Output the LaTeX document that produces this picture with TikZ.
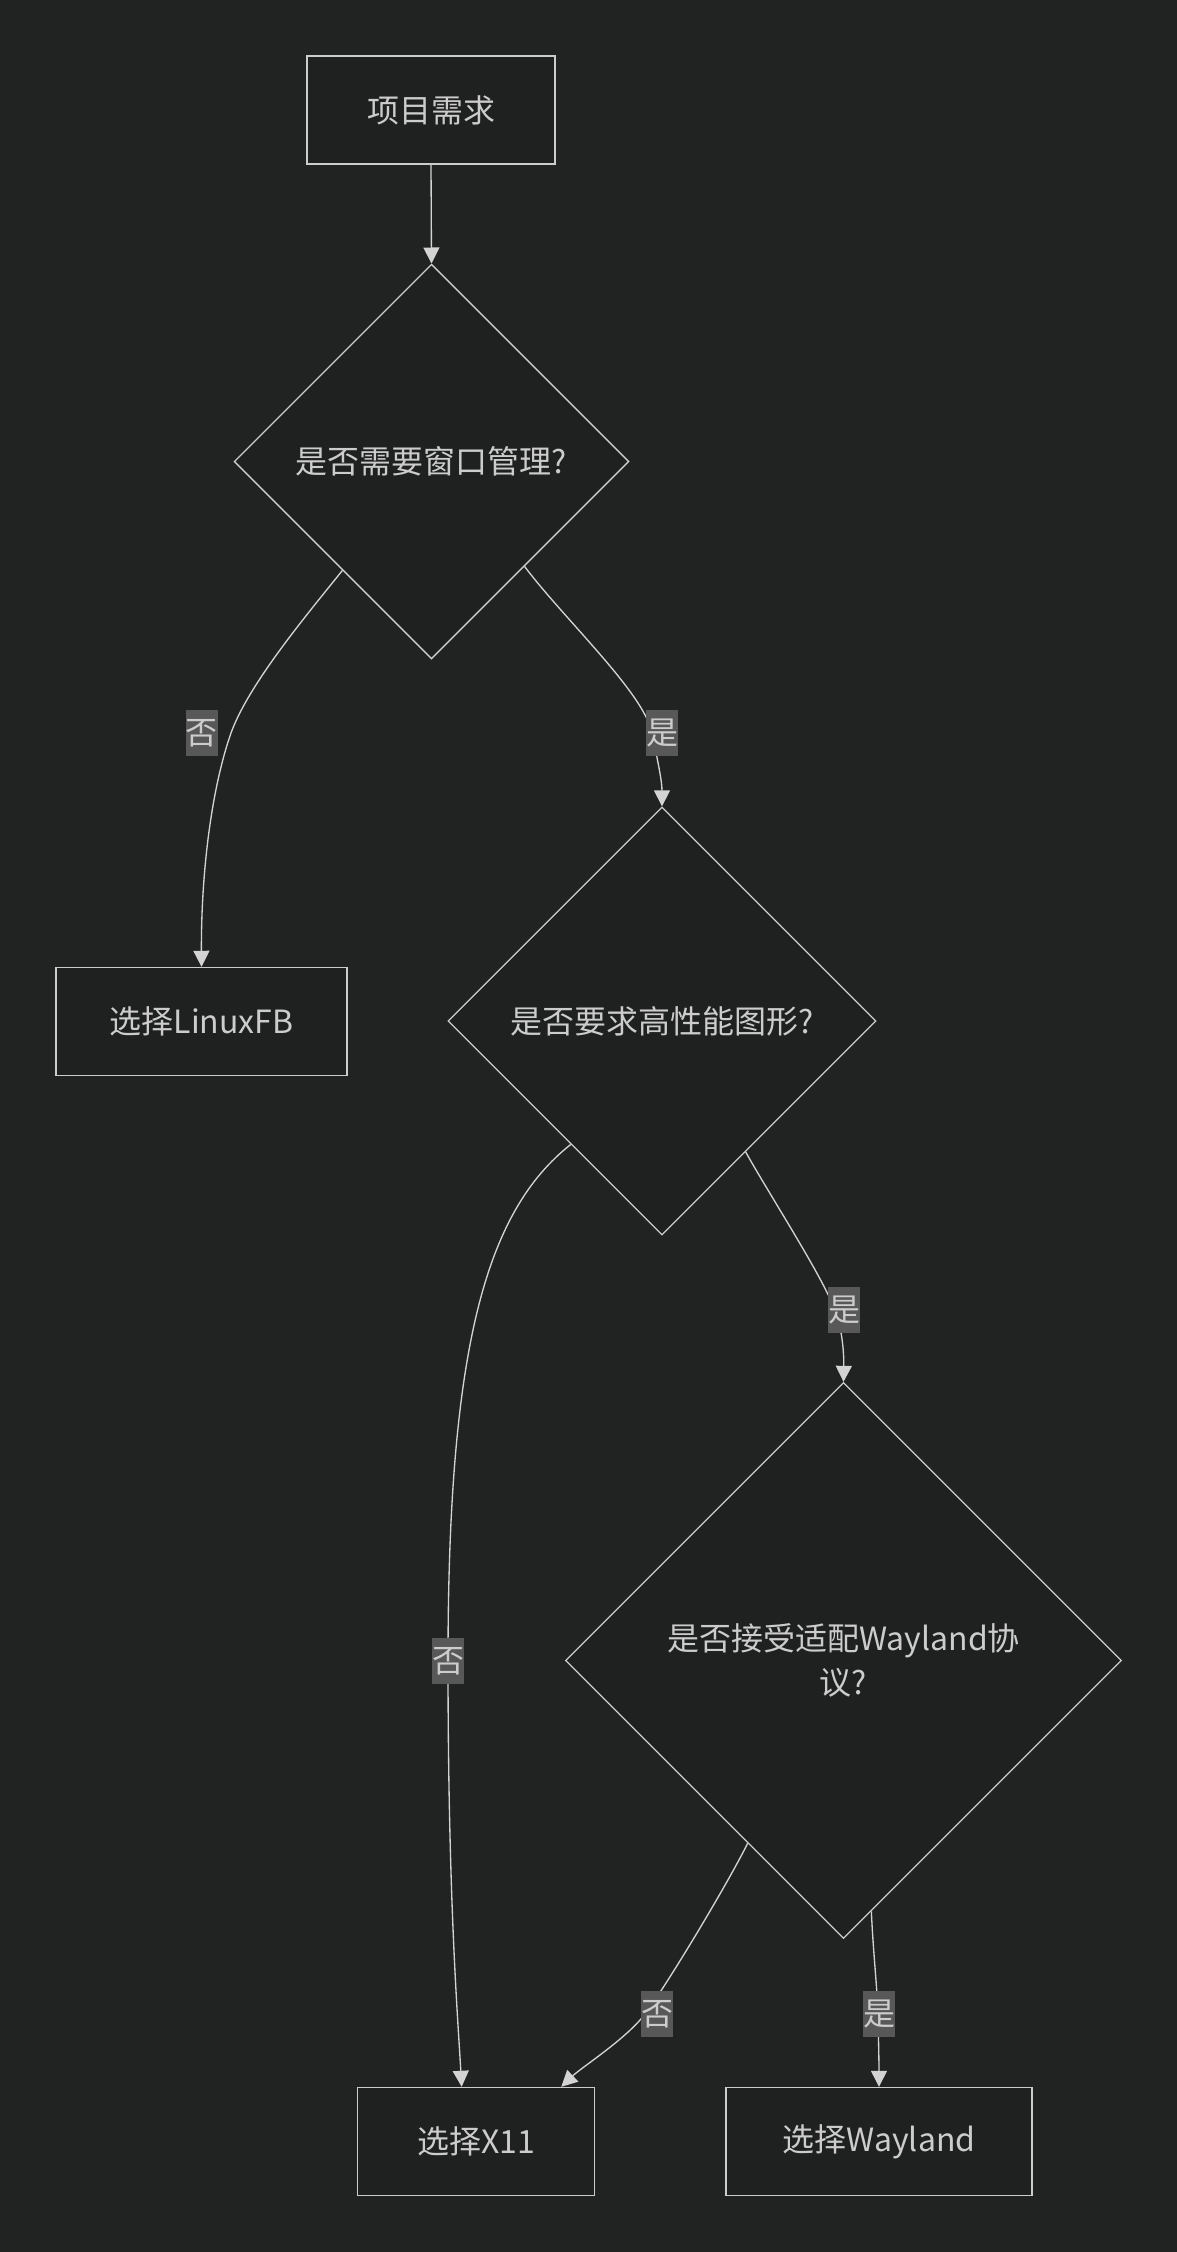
\documentclass[tikz,border=0pt]{standalone}
\usepackage{fontspec}
\setmainfont{Noto Sans CJK SC}
\usepackage{tikz}
\usetikzlibrary{shapes.geometric,arrows.meta,calc}
\definecolor{canvas}{RGB}{33,34,34}
\definecolor{nodefill}{RGB}{31,32,32}
\definecolor{boxline}{RGB}{204,204,204}
\definecolor{wire}{RGB}{211,211,211}
\definecolor{ink}{RGB}{204,204,204}
\definecolor{lblbg}{RGB}{88,88,88}

\begin{document}
\begin{tikzpicture}[x=0.75pt,y=-0.75pt,
    txt/.style={text=ink,font=\fontsize{24}{33}\selectfont},
    proc/.style={txt,rectangle,draw=boxline,fill=nodefill,line width=1.1pt,inner sep=0pt,minimum height=81pt},
    cond/.style={txt,diamond,shape aspect=1,draw=boxline,fill=nodefill,line width=1pt,inner sep=0pt,align=center},
    lbl/.style={txt,fill=lblbg,inner sep=0pt,minimum width=22.5pt,minimum height=35pt},
    flow/.style={draw=wire,line width=1pt,-{Triangle[length=12pt,width=12pt]}}
  ]
  % background, also fixes the page size
  \fill[canvas] (0,0) rectangle (1177,2252);
  % boxes
  \node[proc,minimum width=186pt] (need) at (431,110) {项目需求};
  \node[proc,minimum width=218pt] (fb) at (201.5,1021.5) {选择LinuxFB};
  \node[proc,minimum width=178pt] (x11) at (476,2141.5) {选择X11};
  \node[proc,minimum width=229.5pt] (way) at (879,2141.5) {选择Wayland};
  % questions
  \node[cond,minimum size=296pt] (q1) at (431.5,461.5) {是否需要窗口管理?};
  \node[cond,minimum size=321pt] (q2) at (662,1021) {是否要求高性能图形?};
  \node[cond,minimum size=417pt] (q3) at (843.5,1660.5) {是否接受适配Wayland协\\议?};
  % start
  \draw[flow] (need.south) -- (q1.north);
  % window management?
  \draw[flow] ($(q1.west)!0.55!(q1.south)$) .. controls (310,611) and (249,683) .. (231,733)
      node[lbl,xshift=-22pt] (l1) {否} .. controls (210,793) and (201,880) .. (fb.north);
  \draw[flow] ($(q1.south)!0.47!(q1.east)$) .. controls (565,620) and (644,693) .. (652,733)
      node[lbl,xshift=7.5pt] (l2) {是} .. controls (657,758) and (662,780) .. (q2.north);
  % high performance graphics?
  \draw[flow] ($(q2.west)!0.575!(q2.south)$) .. controls (485,1212) and (448,1350) .. (448,1661)
      node[lbl] (l3) {否} .. controls (448,1900) and (458,2020) .. ($(x11.north west)!0.44!(x11.north east)$);
  \draw[flow] ($(q2.south)!0.39!(q2.east)$) .. controls (767.5,1191.5) and (821.7,1275) .. (835,1310)
      node[lbl,xshift=6.75pt] (l4) {是} .. controls (842.6,1330) and (844,1355) .. (q3.north);
  % wayland?
  \draw[flow] ($(q3.west)!0.656!(q3.south)$) .. controls (728,1883) and (667.5,1984) .. (645,2014)
      node[lbl,xshift=9pt] (l5) {否} .. controls (626,2039) and (582,2067) .. ($(x11.north west)!0.857!(x11.north east)$);
  \draw[flow] ($(q3.south)!0.1!(q3.east)$) .. controls (873,1950) and (877,1985) .. (878,2014)
      node[lbl,xshift=1pt] (l6) {是} .. controls (878.5,2040) and (879,2060) .. (way.north);
\end{tikzpicture}
\end{document}
